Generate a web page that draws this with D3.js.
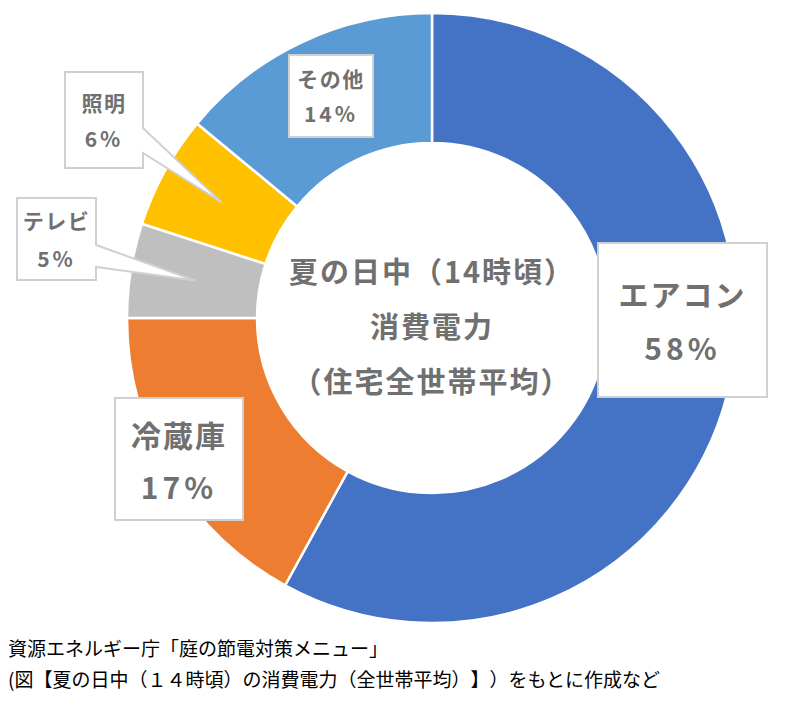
<!DOCTYPE html>
<html><head><meta charset="utf-8">
<script src="https://cdn.jsdelivr.net/npm/d3@7"></script>
<style>body{margin:0;background:#fff}svg{display:block}text{text-spacing-trim:space-all}</style>
</head><body>
<script>
// ---- data ----
const categories = ["エアコン", "冷蔵庫", "テレビ", "照明", "その他"];
const values = [58, 17, 5, 6, 14];
const valueLabels = ["58%", "17%", "5%", "6%", "14%"];
const colors = ["#4472C4", "#ED7D31", "#BFBFBF", "#FFC000", "#5B9BD5"];
const centerLines = ["夏の日中（14時頃）", "消費電力", "（住宅全世帯平均）"];
const sourceLines = ["資源エネルギー庁「庭の節電対策メニュー」", "(図【夏の日中（１４時頃）の消費電力（全世帯平均）】）をもとに作成など"];

// ---- layout ----
const W = 800, H = 704, cx = 432, cy = 318, R = 305, r0 = 175;
const boxes = [
  {x:598, y:243, w:169, h:154, ny:50, vy:104, fs:30, ls:2, vls:4, callout:null},
  {x:115, y:398, w:128, h:122, ny:36, vy:88, fs:30, ls:2, vls:4, callout:null},
  {x:17,  y:198, w:79,  h:82,  ny:22, vy:60, fs:21, ls:1.5, vls:3, callout:[245,267]},
  {x:65,  y:72,  w:78,  h:96,  ny:30, vy:66, fs:21, ls:1.5, vls:3, callout:[128,153]},
  {x:289, y:55,  w:84,  h:82,  ny:23, vy:58, fs:21, ls:1.5, vls:3, callout:null}
];

const svg = d3.select("body").append("svg").attr("width", W).attr("height", H);
const g = svg.append("g").attr("transform", `translate(${cx},${cy})`);

const pie = d3.pie().sort(null).value(d => d)(values);
const arc = d3.arc().innerRadius(r0).outerRadius(R);

g.selectAll("path.slice").data(pie).join("path")
  .attr("class", "slice")
  .attr("d", arc)
  .attr("fill", (d, i) => colors[i])
  .attr("stroke", "#fff").attr("stroke-width", 2.5);

const font = "'Noto Sans CJK JP', 'Noto Sans', sans-serif";
const textColor = "#707070";

// center text
svg.append("g").selectAll("text").data(centerLines).join("text")
  .attr("x", cx).attr("y", (d, i) => 270 + i * 55)
  .attr("text-anchor", "middle").attr("dominant-baseline", "central")
  .attr("font-family", font).attr("font-size", 29).attr("font-weight", 700)
  .attr("letter-spacing", 2)
  .attr("fill", textColor).text(d => d);

// labels
const lg = svg.append("g");
pie.forEach((d, i) => {
  const b = boxes[i];
  const [tx, ty] = arc.centroid(d);
  let path;
  if (b.callout) {
    const xr = b.x + b.w;
    path = `M${b.x},${b.y}H${xr}V${b.callout[0]}L${cx + tx},${cy + ty}L${xr},${b.callout[1]}V${b.y + b.h}H${b.x}Z`;
  } else {
    path = `M${b.x},${b.y}H${b.x + b.w}V${b.y + b.h}H${b.x}Z`;
  }
  lg.append("path").attr("d", path).attr("fill", "#fff")
    .attr("stroke", "#D0D0D0").attr("stroke-width", 2).attr("stroke-linejoin", "miter");
  const tcx = b.x + b.w / 2;
  lg.append("text").attr("x", tcx).attr("y", b.y + b.ny)
    .attr("text-anchor", "middle").attr("dominant-baseline", "central")
    .attr("font-family", font).attr("font-size", b.fs).attr("font-weight", 700)
    .attr("letter-spacing", b.ls)
    .attr("fill", textColor).text(categories[i]);
  lg.append("text").attr("x", tcx).attr("y", b.y + b.vy)
    .attr("text-anchor", "middle").attr("dominant-baseline", "central")
    .attr("font-family", font).attr("font-size", b.fs).attr("font-weight", 700)
    .attr("letter-spacing", b.vls)
    .attr("fill", textColor).text(valueLabels[i]);
});

// source
svg.append("g").selectAll("text").data(sourceLines).join("text")
  .attr("x", 8).attr("y", (d, i) => 647 + i * 31)
  .attr("dominant-baseline", "central")
  .attr("font-family", font).attr("font-size", 19)
  .attr("fill", "#000").text(d => d);
</script>
</body></html>
